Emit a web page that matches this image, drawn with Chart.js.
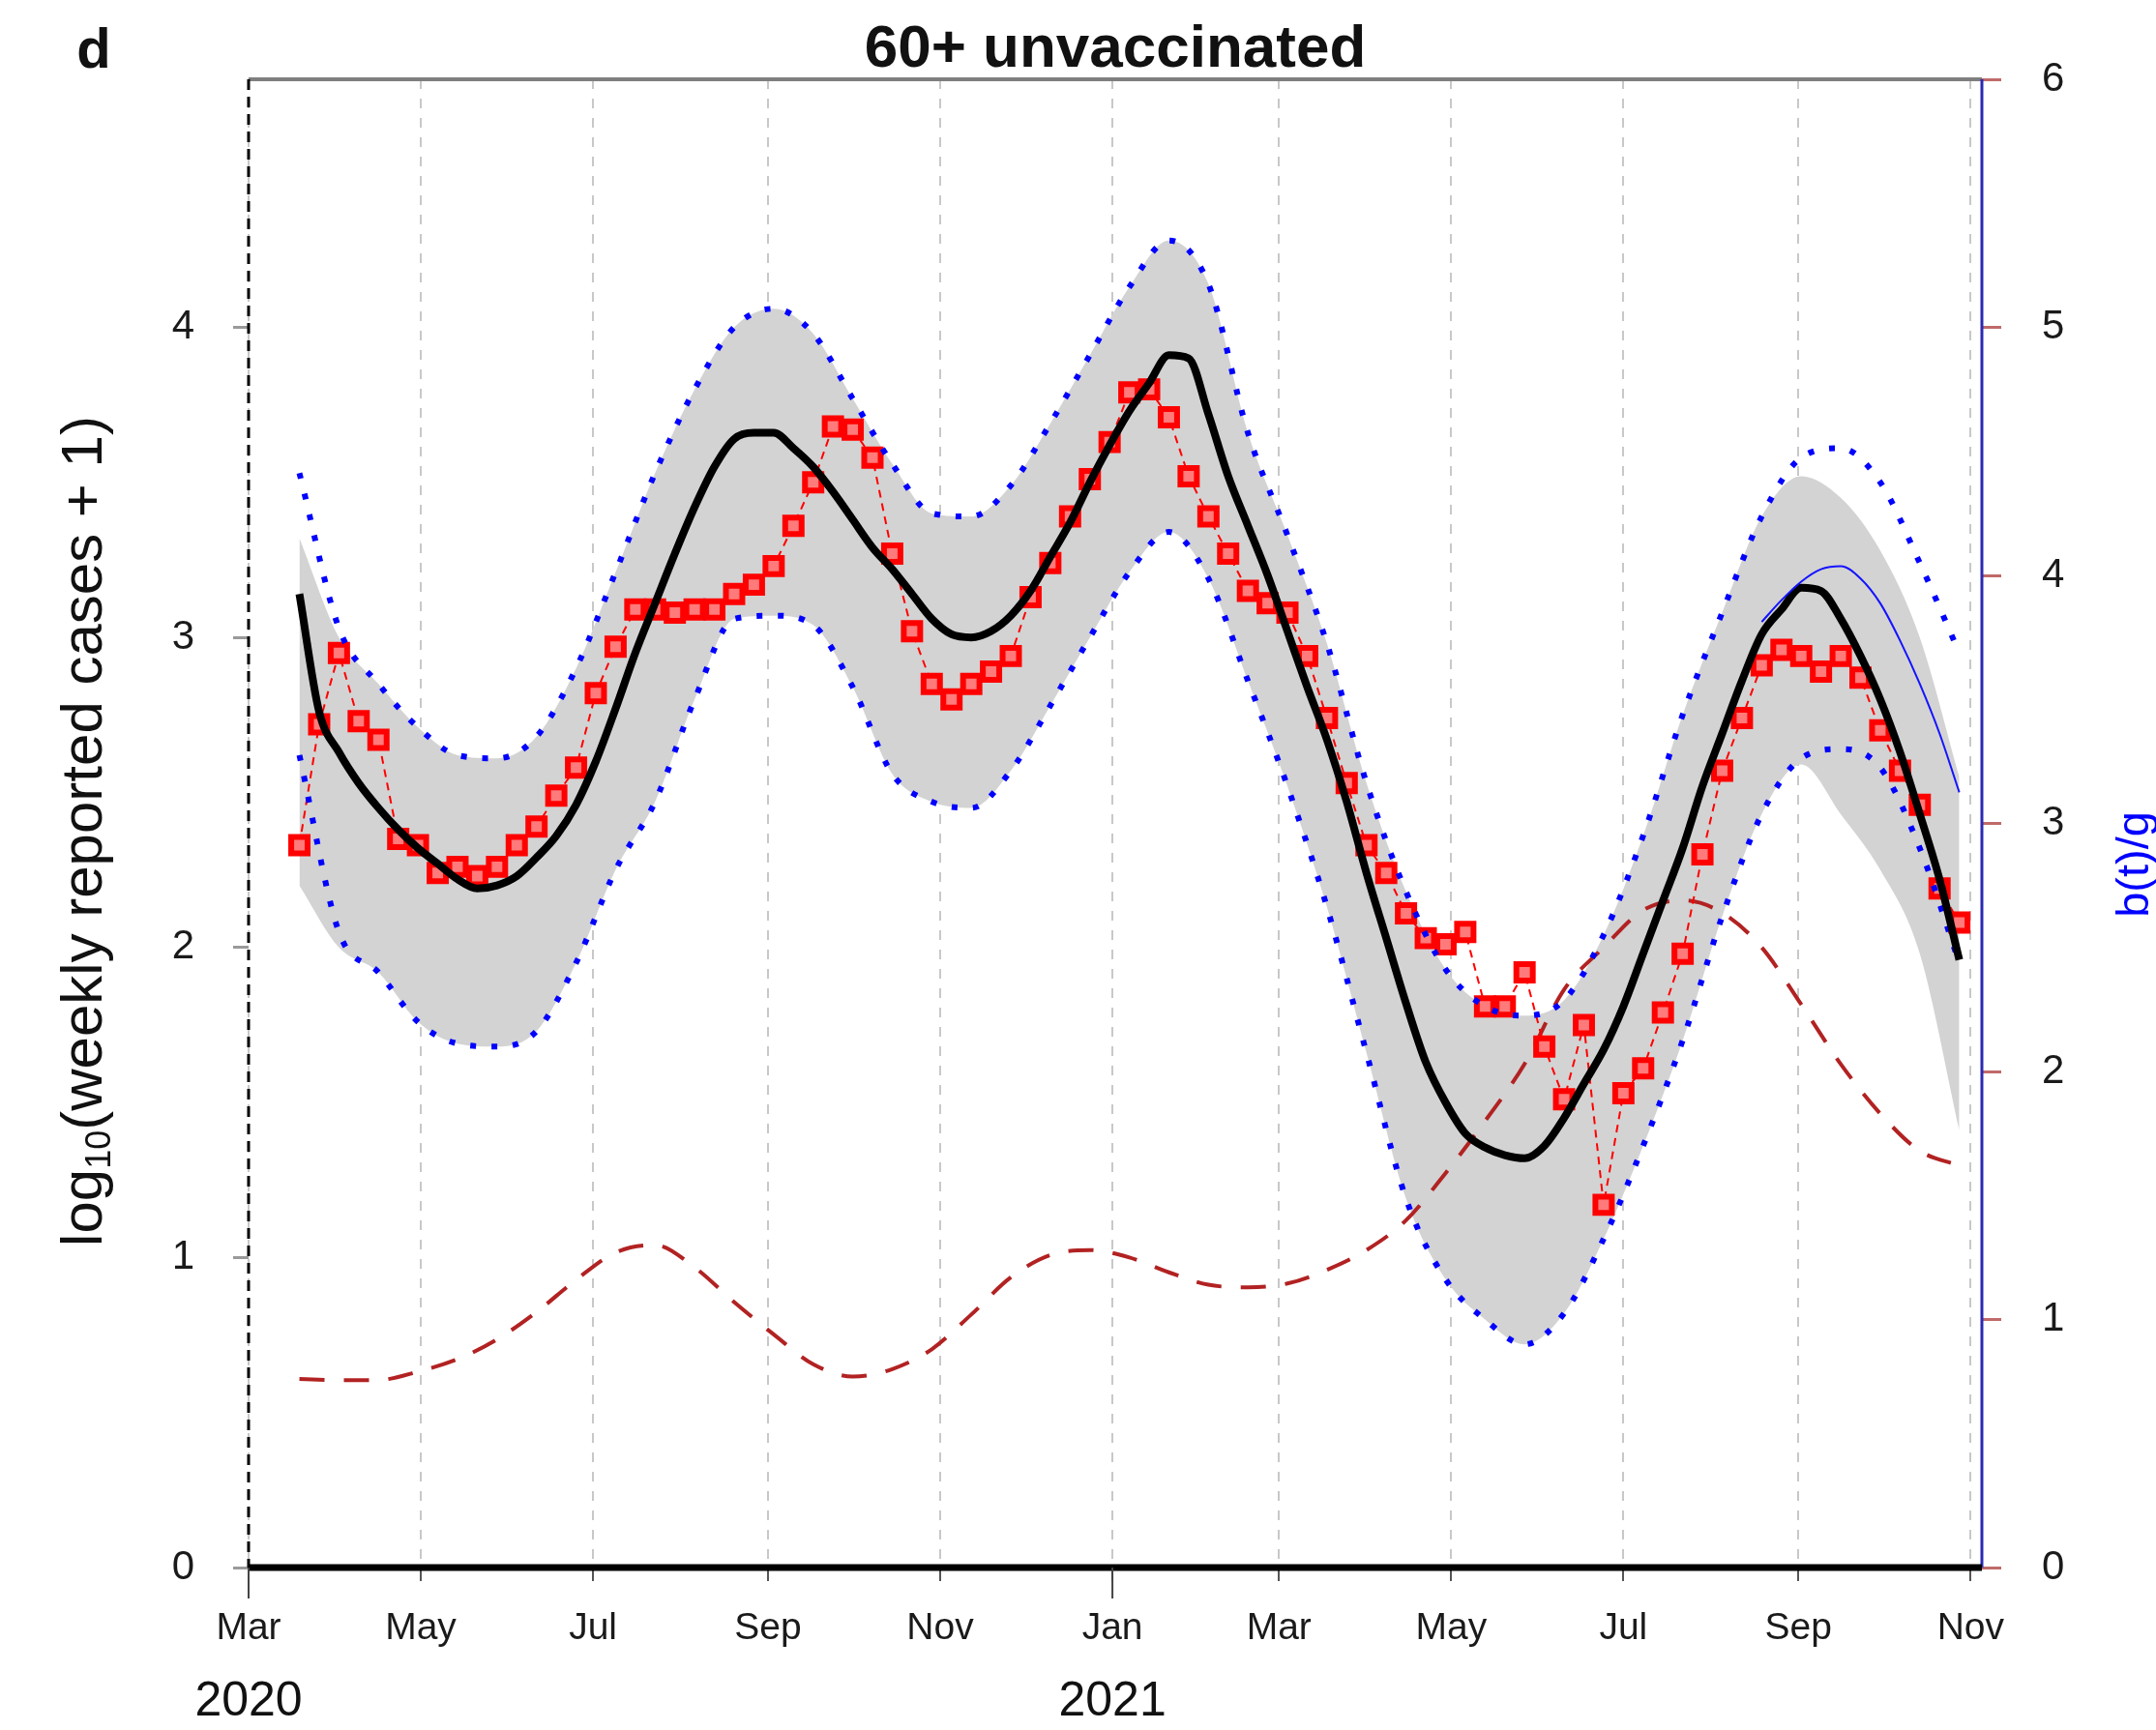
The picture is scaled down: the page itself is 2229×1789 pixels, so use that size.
<!DOCTYPE html>
<html>
<head>
<meta charset="utf-8">
<title>60+ unvaccinated</title>
<script src="https://cdn.jsdelivr.net/npm/chart.js@4.4.1/dist/chart.umd.min.js"></script>
<style>
  html, body { margin: 0; padding: 0; background: #fff; }
  #wrap { width: 2229px; height: 1789px; }
</style>
</head>
<body>
<div id="wrap"><canvas id="fig" width="2229" height="1789"></canvas></div>
<script>
// Weekly reported cases (log10 scale) for the 60+ unvaccinated group, with the model fit,
// its uncertainty band and b(t)/g on the right-hand axis.

// x values are days after 1 Mar 2020
const monthTicks = [0, 61, 122, 184, 245, 306, 365, 426, 487, 549, 610];
const monthLabels = ['Mar', 'May', 'Jul', 'Sep', 'Nov', 'Jan', 'Mar', 'May', 'Jul', 'Sep', 'Nov'];
const yearTicks = [0, 306];
const yearLabels = ['2020', '2021'];
const leftTicks = [0, 1, 2, 3, 4];
const rightTicks = [0, 1, 2, 3, 4, 5, 6];

// one point per reporting week
const weekDays = [
  18, 25, 32, 39, 46, 53, 60, 67, 74, 81,
  88, 95, 102, 109, 116, 123, 130, 137, 144, 151,
  158, 165, 172, 179, 186, 193, 200, 207, 214, 221,
  228, 235, 242, 249, 256, 263, 270, 277, 284, 291,
  298, 305, 312, 319, 326, 333, 340, 347, 354, 361,
  368, 375, 382, 389, 396, 403, 410, 417, 424, 431,
  438, 445, 452, 459, 466, 473, 480, 487, 494, 501,
  508, 515, 522, 529, 536, 543, 550, 557, 564, 571,
  578, 585, 592, 599, 606
];
const observed = [
  2.33, 2.72, 2.95, 2.73, 2.67, 2.35, 2.33, 2.24, 2.26, 2.23,
  2.26, 2.33, 2.39, 2.49, 2.58, 2.82, 2.97, 3.09, 3.09, 3.08,
  3.09, 3.09, 3.14, 3.17, 3.23, 3.36, 3.50, 3.68, 3.67, 3.58,
  3.27, 3.02, 2.85, 2.80, 2.85, 2.89, 2.94, 3.13, 3.24, 3.39,
  3.51, 3.63, 3.79, 3.80, 3.71, 3.52, 3.39, 3.27, 3.15, 3.11,
  3.08, 2.94, 2.74, 2.53, 2.33, 2.24, 2.11, 2.03, 2.01, 2.05,
  1.81, 1.81, 1.92, 1.68, 1.51, 1.75, 1.17, 1.53, 1.61, 1.79,
  1.98, 2.30, 2.57, 2.74, 2.91, 2.96, 2.94, 2.89, 2.94, 2.87,
  2.70, 2.57, 2.46, 2.19, 2.08
];
const fitted = [
  3.14, 2.76, 2.63, 2.53, 2.45, 2.38, 2.32, 2.27, 2.22, 2.19,
  2.20, 2.23, 2.29, 2.36, 2.46, 2.60, 2.77, 2.95, 3.11, 3.27,
  3.42, 3.55, 3.64, 3.66, 3.66, 3.61, 3.55, 3.47, 3.38, 3.29,
  3.22, 3.14, 3.06, 3.01, 3.00, 3.02, 3.07, 3.15, 3.26, 3.37,
  3.50, 3.62, 3.73, 3.82, 3.91, 3.90, 3.72, 3.52, 3.36, 3.20,
  3.02, 2.84, 2.67, 2.47, 2.24, 2.03, 1.82, 1.63, 1.50, 1.40,
  1.355, 1.33, 1.32, 1.36, 1.45, 1.56, 1.67, 1.81, 1.98, 2.15,
  2.32, 2.52, 2.69, 2.86, 3.01, 3.09, 3.16, 3.15, 3.06, 2.94,
  2.80, 2.63, 2.43, 2.22, 1.96
];

// fortnightly curves
const bandDays = [
  18, 32, 46, 60, 74, 88, 102, 116, 130, 144,
  158, 172, 186, 200, 214, 228, 242, 256, 270, 284,
  298, 312, 326, 340, 354, 368, 382, 396, 410, 424,
  438, 452, 466, 480, 494, 508, 522, 536, 550, 564,
  578, 592, 606
];
const bandUpper = [
  3.32, 3.00, 2.85, 2.71, 2.62, 2.61, 2.68, 2.90, 3.21, 3.53,
  3.80, 4.00, 4.06, 3.98, 3.77, 3.56, 3.40, 3.39, 3.49, 3.69,
  3.91, 4.13, 4.28, 4.14, 3.66, 3.33, 2.98, 2.53, 2.18, 1.93,
  1.81, 1.78, 1.83, 2.04, 2.36, 2.75, 3.08, 3.39, 3.52, 3.45,
  3.28, 3.00, 2.55
];
const bandLower = [
  2.20, 2.00, 1.92, 1.76, 1.69, 1.68, 1.73, 1.95, 2.25, 2.47,
  2.80, 3.06, 3.07, 3.04, 2.84, 2.56, 2.47, 2.45, 2.57, 2.78,
  3.00, 3.21, 3.34, 3.19, 2.86, 2.52, 2.13, 1.66, 1.19, 0.93,
  0.80, 0.72, 0.82, 1.06, 1.36, 1.70, 2.10, 2.43, 2.59, 2.43,
  2.25, 1.98, 1.41
];
const ciUpper = [
  3.53, 3.03, 2.85, 2.71, 2.62, 2.61, 2.68, 2.90, 3.21, 3.53,
  3.80, 4.00, 4.06, 3.98, 3.77, 3.56, 3.40, 3.39, 3.49, 3.69,
  3.91, 4.13, 4.28, 4.14, 3.66, 3.33, 2.98, 2.53, 2.18, 1.93,
  1.81, 1.78, 1.83, 2.04, 2.36, 2.75, 3.08, 3.39, 3.58, 3.61,
  3.50, 3.24, 2.95
];
const ciLower = [
  2.62, 2.05, 1.92, 1.76, 1.69, 1.68, 1.73, 1.95, 2.25, 2.47,
  2.80, 3.06, 3.07, 3.04, 2.84, 2.56, 2.47, 2.45, 2.57, 2.78,
  3.00, 3.21, 3.34, 3.19, 2.86, 2.52, 2.13, 1.66, 1.19, 0.93,
  0.80, 0.72, 0.82, 1.06, 1.36, 1.70, 2.10, 2.43, 2.61, 2.64,
  2.58, 2.32, 1.95
];
// b(t)/g, right axis
const ratioBG = [
  0.76, 0.755, 0.756, 0.79, 0.84, 0.92, 1.03, 1.16, 1.27, 1.30,
  1.21, 1.07, 0.94, 0.82, 0.77, 0.80, 0.88, 1.02, 1.17, 1.26,
  1.28, 1.25, 1.19, 1.14, 1.13, 1.145, 1.20, 1.28, 1.40, 1.59,
  1.80, 2.03, 2.33, 2.50, 2.65, 2.69, 2.64, 2.50, 2.27, 2.03,
  1.83, 1.68, 1.62
];

// late-period projection
const projDays = [536, 543, 550, 557, 564, 571, 578, 585, 592, 599, 606];
const projected = [3.05, 3.12, 3.18, 3.22, 3.23, 3.19, 3.11, 2.99, 2.85, 2.69, 2.50];

const FAMILY = '"Liberation Sans", Arial, Helvetica, sans-serif';
const font = (px, bold) => (bold ? 'bold ' : '') + px + 'px ' + FAMILY;
const pts = (xs, ys) => ys.map((y, i) => ({ x: xs[i], y }));

// frame, titles and the sub-scripted axis label
const decorations = {
  id: 'decorations',
  afterDraw(chart) {
    const { ctx, chartArea: a, scales } = chart;
    const seg = (x1, y1, x2, y2) => { ctx.beginPath(); ctx.moveTo(x1, y1); ctx.lineTo(x2, y2); ctx.stroke(); };
    ctx.save();

    ctx.lineWidth = 4; ctx.strokeStyle = '#7f7f7f';
    seg(a.left, a.top, a.right, a.top);
    ctx.lineWidth = 3; ctx.strokeStyle = '#2a2ab4';
    seg(a.right, a.top, a.right, a.bottom);
    ctx.setLineDash([11, 7]); ctx.strokeStyle = '#000';
    seg(a.left, a.top, a.left, a.bottom);
    ctx.setLineDash([]);
    ctx.lineWidth = 7;
    seg(a.left, a.bottom, a.right, a.bottom);

    // year marks
    ctx.lineWidth = 2; ctx.strokeStyle = '#444';
    ctx.fillStyle = '#111'; ctx.font = font(50);
    ctx.textAlign = 'center'; ctx.textBaseline = 'middle';
    yearTicks.forEach((d, i) => {
      const x = scales.x.getPixelForValue(d);
      seg(x, a.bottom, x, a.bottom + 32);
      ctx.fillText(yearLabels[i], x, 1760);
    });

    ctx.font = font(58, true);
    ctx.fillText('d', 97, 54);
    ctx.font = font(62, true);
    ctx.fillText('60+ unvaccinated', (a.left + a.right) / 2, 52);

    // log10(weekly reported cases + 1)
    const parts = [['log', 60, 0], ['10', 36, 16], ['(weekly reported cases + 1)', 60, 0]];
    ctx.save();
    ctx.translate(88, (a.top + a.bottom) / 2 + 8);
    ctx.rotate(-Math.PI / 2);
    ctx.textAlign = 'left';
    let total = 0;
    parts.forEach(([t, s]) => { ctx.font = font(s); total += ctx.measureText(t).width; });
    let x = -total / 2;
    parts.forEach(([t, s, dy]) => {
      ctx.font = font(s);
      ctx.fillText(t, x, dy);
      x += ctx.measureText(t).width;
    });
    ctx.restore();

    ctx.save();
    ctx.translate(2208, 894);
    ctx.rotate(-Math.PI / 2);
    ctx.fillStyle = '#0000ff'; ctx.font = font(47);
    ctx.fillText('b(t)/g', 0, 0);
    ctx.restore();

    ctx.restore();
  }
};

const smooth = { pointRadius: 0, pointHoverRadius: 0, cubicInterpolationMode: 'monotone', yAxisID: 'y' };

new Chart(document.getElementById('fig'), {
  type: 'line',
  data: {
    datasets: [
      { ...smooth, data: pts(bandDays, bandUpper), borderWidth: 0, fill: '+1', backgroundColor: '#d3d3d3', order: 10 },
      { ...smooth, data: pts(bandDays, bandLower), borderWidth: 0, fill: false, order: 11 },
      { ...smooth, data: pts(bandDays, ratioBG), yAxisID: 'yR', borderColor: '#b22222', borderWidth: 4,
        borderDash: [26, 20], fill: false, order: 8 },
      { data: pts(weekDays, observed), yAxisID: 'y', borderColor: '#ff0000', borderWidth: 2, borderDash: [8, 6],
        tension: 0, fill: false, pointStyle: 'rect', pointRadius: 12, pointHoverRadius: 12, pointBorderWidth: 6,
        pointBorderColor: '#ff0000', pointBackgroundColor: '#ff7a7a', order: 5 },
      { ...smooth, data: pts(bandDays, ciUpper), borderColor: '#0000ff', borderWidth: 6,
        borderDash: [6, 16], borderCapStyle: 'butt', fill: false, order: 4 },
      { ...smooth, data: pts(bandDays, ciLower), borderColor: '#0000ff', borderWidth: 6,
        borderDash: [6, 16], borderCapStyle: 'butt', fill: false, order: 4 },
      { ...smooth, data: pts(weekDays, fitted), borderColor: '#000', borderWidth: 8, fill: false, order: 2 },
      { ...smooth, data: pts(projDays, projected), borderColor: '#1414ff', borderWidth: 2, fill: false, order: 1 }
    ]
  },
  options: {
    responsive: false,
    animation: false,
    events: [],
    layout: { padding: { top: 82, left: 0, right: 0, bottom: 0 } },
    plugins: { legend: { display: false }, tooltip: { enabled: false }, title: { display: false } },
    scales: {
      x: {
        type: 'linear', min: 0, max: 614,
        afterBuildTicks: s => { s.ticks = monthTicks.map(v => ({ value: v })); },
        afterFit: s => { s.height = 168; },
        ticks: {
          autoSkip: false, maxRotation: 0, padding: 26, color: '#1a1a1a', font: { family: FAMILY, size: 39 },
          callback: v => monthLabels[monthTicks.indexOf(v)]
        },
        grid: { color: '#c8c8c8', lineWidth: 2, tickColor: '#555', tickWidth: 2, tickLength: 14 },
        border: { display: false, dash: [10, 10] }
      },
      y: {
        position: 'left', min: 0, max: 4.8,
        afterBuildTicks: s => { s.ticks = leftTicks.map(v => ({ value: v })); },
        afterFit: s => { s.width = 257; },
        ticks: { padding: 40, color: '#1a1a1a', font: { family: FAMILY, size: 42 } },
        grid: { drawOnChartArea: false, tickColor: '#9a9a9a', tickWidth: 3, tickLength: 16 },
        border: { display: false }
      },
      yR: {
        position: 'right', min: 0, max: 6,
        afterBuildTicks: s => { s.ticks = rightTicks.map(v => ({ value: v })); },
        afterFit: s => { s.width = 180; },
        ticks: { padding: 42, color: '#1a1a1a', font: { family: FAMILY, size: 42 } },
        grid: { drawOnChartArea: false, tickColor: '#c06a6a', tickWidth: 3, tickLength: 20 },
        border: { display: false }
      }
    }
  },
  plugins: [decorations]
});
</script>
</body>
</html>
